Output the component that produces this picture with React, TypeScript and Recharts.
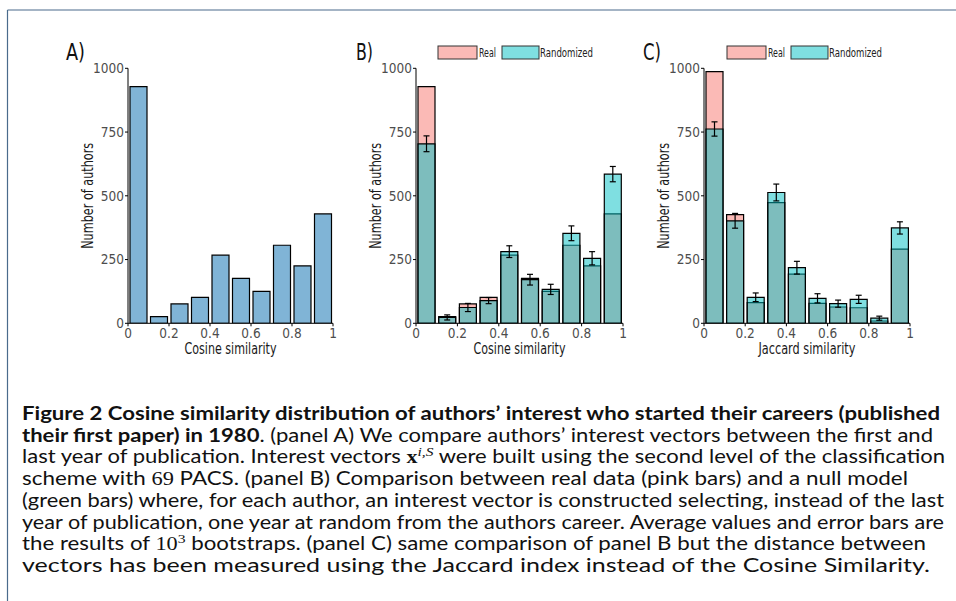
import React from "react";
import { BarChart, Bar, XAxis, YAxis, ErrorBar, Label } from "recharts";

// bin centers of the histograms (width 0.1)
const binCenters = [0.05, 0.15, 0.25, 0.35, 0.45, 0.55, 0.65, 0.75, 0.85, 0.95];
const xTicks = [0, 0.2, 0.4, 0.6, 0.8, 1];
const yTicks = [0, 250, 500, 750, 1000];

// panel A / B real data (cosine)
const cosineReal = [928, 26, 76, 102, 267, 176, 125, 306, 225, 429];
const cosineRand = [704, 23, 62, 89, 281, 171, 133, 353, 255, 585];
const cosineRandErr = [31, 10, 16, 12, 23, 21, 20, 29, 26, 30];

// panel C (jaccard)
const jaccardReal = [987, 426, 81, 473, 193, 78, 64, 61, 9, 291];
const jaccardRand = [762, 402, 102, 513, 218, 98, 77, 94, 20, 374];
const jaccardRandErr = [28, 29, 17, 33, 25, 18, 14, 16, 8, 24];

const FONT = '"Liberation Sans Narrow", "DejaVu Sans Condensed", "Roboto Condensed", sans-serif';
const CAP_FONT = "Lato, 'Open Sans', sans-serif";
const MATH_FONT = "'Liberation Serif', 'DejaVu Serif', serif";

const PINK = "#F8766D";
const CYAN = "#00BFC4";
const BLUE = "#80b4d6";

const toRows = (real: number[], rand?: number[], err?: number[]) =>
  binCenters.map((x, i) => ({
    x,
    real: real[i],
    rand: rand ? rand[i] : undefined,
    err: err ? err[i] : undefined,
  }));

const fmt = (v: number) => (v === 0 ? "0" : v === 1 ? "1" : String(v));

// axis titles squeezed to the narrow face of the original
const xTitle = (text: string, len: number) => (props: any) => {
  const vb = props.viewBox;
  return (
    <text
      x={vb.x + vb.width / 2}
      y={vb.y + 31}
      textAnchor="middle"
      fontFamily={FONT}
      fontSize={15}
      fill="#1a1a1a"
      textLength={len}
      lengthAdjust="spacingAndGlyphs"
    >
      {text}
    </text>
  );
};

const yTitle = (props: any) => {
  const vb = props.viewBox;
  const cx = vb.x + vb.width / 2;
  const cy = vb.y + vb.height / 2;
  return (
    <text
      x={cx}
      y={cy}
      transform={`rotate(-90 ${cx} ${cy})`}
      textAnchor="middle"
      dominantBaseline="central"
      fontFamily={FONT}
      fontSize={15}
      fill="#1a1a1a"
      textLength={106}
      lengthAdjust="spacingAndGlyphs"
    >
      Number of authors
    </text>
  );
};

type PanelProps = {
  left: number;
  width: number;
  xLabel: string;
  xLabelLen: number;
  real: number[];
  rand?: number[];
  err?: number[];
};

function Panel({ left, width, xLabel, xLabelLen, real, rand, err }: PanelProps) {
  const data = toRows(real, rand, err);
  return (
    <div style={{ position: "absolute", left, top: 30 }}>
      <BarChart
        width={width}
        height={350}
        data={data}
        margin={{ top: 38.3, right: 15, bottom: 16.7, left: 0 }}
        barCategoryGap={2}
      >
        <XAxis xAxisId="a" dataKey="x" hide height={0} />
        <XAxis xAxisId="b" dataKey="x" hide height={0} />
        <XAxis
          xAxisId="num"
          dataKey="x"
          type="number"
          domain={[0, 1]}
          allowDataOverflow
          ticks={xTicks}
          tickFormatter={fmt}
          height={40}
          tickSize={3}
          tickMargin={2}
          axisLine={{ stroke: "#000" }}
          tickLine={{ stroke: "#000" }}
          tick={{ fill: "#4d4d4d", fontSize: 13.5, fontFamily: FONT }}
        >
          <Label content={xTitle(xLabel, xLabelLen)} />
        </XAxis>
        <YAxis
          width={80}
          domain={[0, 1000]}
          ticks={yTicks}
          allowDataOverflow
          tickSize={3}
          tickMargin={1}
          axisLine={{ stroke: "#000" }}
          tickLine={{ stroke: "#000" }}
          tick={{ fill: "#4d4d4d", fontSize: 13.5, fontFamily: FONT }}
        >
          <Label content={yTitle} />
        </YAxis>
        {rand ? (
          <Bar xAxisId="a" dataKey="real" fill={PINK} fillOpacity={0.5} stroke="#000" strokeWidth={1.2} isAnimationActive={false} />
        ) : (
          <Bar xAxisId="a" dataKey="real" fill={BLUE} stroke="#000" strokeWidth={1.2} isAnimationActive={false} />
        )}
        {rand && (
          <Bar xAxisId="b" dataKey="rand" fill={CYAN} fillOpacity={0.5} stroke="#000" strokeWidth={1.2} isAnimationActive={false}>
            <ErrorBar dataKey="err" width={3} stroke="#000" strokeWidth={1.2} />
          </Bar>
        )}
      </BarChart>
    </div>
  );
}

type Seg = { t: string; b?: boolean; math?: boolean; mb?: boolean; sup?: boolean; it?: boolean };

const captionLines: Seg[][] = [
  [{ t: "Figure 2 Cosine similarity distribution of authors\u2019 interest who started their careers (published", b: true }],
  [{ t: "their first paper) in 1980", b: true }, { t: ". (panel A) We compare authors\u2019 interest vectors between the first and" }],
  [
    { t: "last year of publication. Interest vectors " },
    { t: "x", mb: true },
    { t: "i,S", sup: true, it: true },
    { t: " were built using the second level of the classification" },
  ],
  [{ t: "scheme with " }, { t: "69", math: true }, { t: " PACS. (panel B) Comparison between real data (pink bars) and a null model" }],
  [{ t: "(green bars) where, for each author, an interest vector is constructed selecting, instead of the last" }],
  [{ t: "year of publication, one year at random from the authors career. Average values and error bars are" }],
  [{ t: "the results of " }, { t: "10", math: true }, { t: "3", sup: true, math: true }, { t: " bootstraps. (panel C) same comparison of panel B but the distance between" }],
  [{ t: "vectors has been measured using the Jaccard index instead of the Cosine Similarity." }],
];
const lineEnds = [940, 933, 945, 908, 944, 944, 926, 930];

function Caption() {
  return (
    <g>
      {captionLines.map((segs, i) => (
        <text
          key={i}
          x={22}
          y={420 + i * 21.7}
          fontSize={18.5}
          fontFamily={CAP_FONT}
          fill="#111"
          textLength={lineEnds[i] - 22}
          lengthAdjust="spacingAndGlyphs"
        >
          {segs.map((s, j) => {
            const prevSup = j > 0 && segs[j - 1].sup;
            return (
              <tspan
                key={j}
                fontWeight={s.b || s.mb ? 700 : 400}
                fontFamily={s.math || s.mb || s.it ? MATH_FONT : CAP_FONT}
                fontStyle={s.it ? "italic" : "normal"}
                fontSize={s.sup ? 13 : 18.5}
                dy={s.sup ? -7 : prevSup ? 7 : 0}
              >
                {s.t}
              </tspan>
            );
          })}
        </text>
      ))}
    </g>
  );
}

function LegendBox({ x }: { x: number }) {
  return (
    <g fontFamily={FONT} fontSize={12} fill="#222">
      <rect x={x} y={46} width={39} height={13} fill={PINK} fillOpacity={0.5} stroke="#333" strokeWidth={1} />
      <text x={x + 41} y={57} textLength={17} lengthAdjust="spacingAndGlyphs">Real</text>
      <rect x={x + 64} y={46} width={37} height={13} fill={CYAN} fillOpacity={0.5} stroke="#333" strokeWidth={1} />
      <text x={x + 102} y={57} textLength={53} lengthAdjust="spacingAndGlyphs">Randomized</text>
    </g>
  );
}

export default function App() {
  return (
    <div style={{ position: "absolute", left: 0, top: 0, width: 956, height: 601, background: "#fff" }}>
      <svg width={956} height={601} style={{ position: "absolute", left: 0, top: 0 }}>
        <line x1={7.5} y1={10} x2={956} y2={10} stroke="#4a6b8c" strokeWidth={1.2} />
        <line x1={7.5} y1={10} x2={7.5} y2={601} stroke="#4a6b8c" strokeWidth={1.2} />
        <g fontFamily={FONT} fontSize={23} fill="#111">
          <text x={66} y={59.5} textLength={19} lengthAdjust="spacingAndGlyphs">A)</text>
          <text x={356} y={59.5} textLength={17} lengthAdjust="spacingAndGlyphs">B)</text>
          <text x={643} y={59.5} textLength={18} lengthAdjust="spacingAndGlyphs">C)</text>
        </g>
        <LegendBox x={438} />
        <LegendBox x={727} />
        <Caption />
      </svg>
      <Panel left={48} width={300} xLabel="Cosine similarity" xLabelLen={92} real={cosineReal} />
      <Panel left={336} width={302} xLabel="Cosine similarity" xLabelLen={92} real={cosineReal} rand={cosineRand} err={cosineRandErr} />
      <Panel left={624} width={301} xLabel="Jaccard similarity" xLabelLen={97} real={jaccardReal} rand={jaccardRand} err={jaccardRandErr} />
    </div>
  );
}
